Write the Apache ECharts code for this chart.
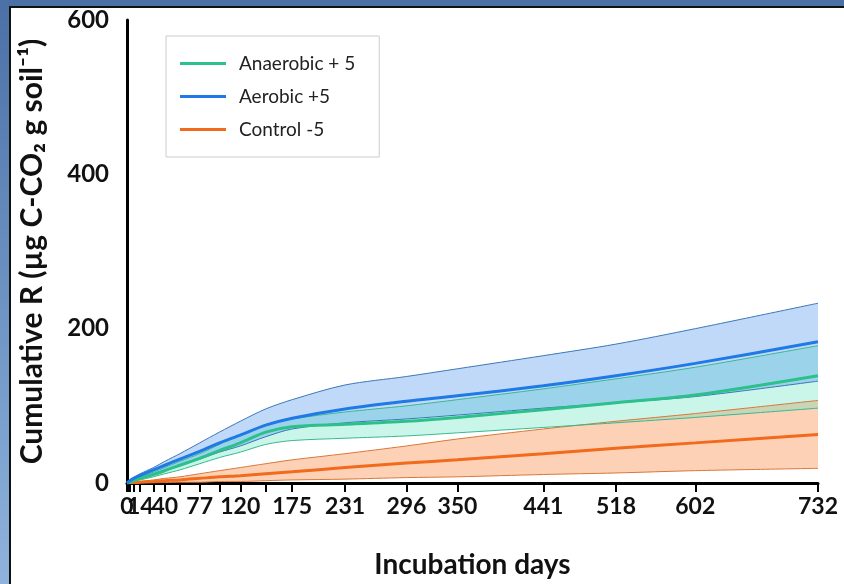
<!DOCTYPE html>
<html>
<head>
<meta charset="utf-8">
<script src="https://cdn.jsdelivr.net/npm/echarts@6/dist/echarts.min.js"></script>
<style>
  html, body { margin: 0; padding: 0; width: 844px; height: 584px; overflow: hidden; }
  body { background: linear-gradient(to bottom, #4b70a6, #8fb3dd); position: relative; }
  .frame { position: absolute; left: 9px; top: 6px; right: 0; bottom: 0; background: #fff;
           border-left: 2px solid #111; border-top: 2px solid #111; }
  #chart { position: absolute; left: 0; top: 0; width: 844px; height: 584px; }
</style>
</head>
<body>
<div class="frame"></div>
<div id="chart"></div>
<script>
const days = [0, 1, 3, 7, 14, 28, 40, 56, 77, 98, 120, 147, 175, 231, 296, 350, 441, 518, 602, 732]
const tickDays = [0, 1, 3, 7, 14, 28, 40, 56, 77, 98, 120, 147, 175, 231, 296, 350, 441, 518, 602, 732]
const labelDays = [0, 40, 77, 120, 175, 231, 296, 350, 441, 518, 602, 732]
const crowdedLabelDays = [14]

// Aerobic +5
const aerobicMean = [0, 1, 3, 6, 10, 17, 23, 31, 41, 52, 62, 75, 84, 96, 106, 113, 126, 139, 155, 183]
const aerobicUpper = [0, 1, 3, 7, 12, 20, 28, 38, 52, 66, 80, 96, 108, 127, 138, 148, 165, 180, 200, 233]
const aerobicLower = [0, 1, 2, 4, 7, 12, 17, 23, 31, 40, 48, 60, 70, 78, 83, 88, 97, 104, 112, 132]

// Anaerobic + 5
const anaerobicMean = [0, 0.5, 1, 3, 6, 11, 16, 23, 32, 42, 52, 66, 73, 76, 80, 85, 95, 104, 114, 139]
const anaerobicUpper = [0, 1, 2, 4, 8, 14, 20, 28, 38, 50, 62, 76, 83, 92, 100, 108, 122, 135, 150, 178]
const anaerobicLower = [0, 0, 1, 2, 4, 8, 12, 17, 25, 33, 40, 50, 55, 58, 61, 65, 72, 78, 85, 97]

// Control -5
const controlMean = [0, 0, 0.3, 0.5, 1, 2, 3, 4, 6, 8, 9.5, 12, 14.5, 20, 26, 30, 38, 45, 52, 63]
const controlUpper = [0, 0.2, 0.5, 1, 2, 4, 6, 8, 12, 16, 20, 25, 30, 38, 48, 57, 70, 80, 90, 107]
const controlLower = [0, 0, 0, 0, 0, 0, 0.5, 1, 1, 2, 2, 3, 4, 5, 7, 8, 11, 13, 16, 19]

const FONT = 'Lato, "Open Sans", sans-serif'

// value first, day second, so that stacking happens on the y value
const pairVY = (arr) => days.map((d, i) => [arr[i], d])
const diffVY = (hi, lo) => days.map((d, i) => [hi[i] - lo[i], d])
const pair = (arr) => days.map((d, i) => [d, arr[i]])

const band = (name, lo, hi, fill) => ([
  {
    name: name + '_lo', type: 'line', stack: name, data: pairVY(lo), encode: { x: 1, y: 0 },
    smooth: 0.3, symbol: 'none', lineStyle: { width: 0, opacity: 0 }, silent: true, z: 1
  },
  {
    name: name + '_fill', type: 'line', stack: name, data: diffVY(hi, lo), encode: { x: 1, y: 0 },
    smooth: 0.3, symbol: 'none', lineStyle: { width: 0, opacity: 0 },
    areaStyle: { color: fill, opacity: 1 }, silent: true, z: 1
  }
])

const edge = (name, arr, color) => ({
  name: name, type: 'line', data: pair(arr), smooth: 0.3, symbol: 'none',
  lineStyle: { width: 1, color: color }, silent: true, z: 2
})

const mean = (name, arr, color) => ({
  name: name, type: 'line', data: pair(arr), smooth: 0.3, symbol: 'none',
  itemStyle: { color: color }, lineStyle: { width: 3, color: color }, z: 3
})

const labelStyle = { margin: 12, fontFamily: FONT, fontSize: 23, fontWeight: 'bold', color: '#111' }

const chart = echarts.init(document.getElementById('chart'))

const option = {
  animation: false,
  grid: { left: 127, top: 20, right: 26, bottom: 97, containLabel: false },
  legend: {
    orient: 'vertical',
    left: 166,
    top: 36,
    data: ['Anaerobic + 5', 'Aerobic +5', 'Control -5'],
    icon: 'rect',
    itemWidth: 46,
    itemHeight: 3,
    itemGap: 14,
    padding: [18, 24, 18, 14],
    borderColor: '#cccccc',
    borderWidth: 1,
    backgroundColor: '#ffffff',
    textStyle: { fontFamily: FONT, fontSize: 19, color: '#222', padding: [0, 0, 0, 8] }
  },
  xAxis: [
    {
      type: 'value',
      min: 0,
      max: 732,
      name: 'Incubation days',
      nameLocation: 'middle',
      nameGap: 68,
      nameTextStyle: { fontFamily: FONT, fontSize: 28, fontWeight: 'bold', color: '#111' },
      axisLine: { show: true, lineStyle: { color: '#000', width: 3 } },
      axisTick: { show: true, customValues: tickDays, length: 9, lineStyle: { color: '#000', width: 2 } },
      axisLabel: { customValues: labelDays, showMinLabel: true, showMaxLabel: true, ...labelStyle },
      splitLine: { show: false }
    },
    {
      // second copy of the same scale, only to print the crowded "14" label
      type: 'value',
      position: 'bottom',
      min: 0,
      max: 732,
      axisLine: { show: false },
      axisTick: { show: false },
      axisLabel: { customValues: crowdedLabelDays, showMinLabel: true, showMaxLabel: true, ...labelStyle },
      splitLine: { show: false }
    }
  ],
  yAxis: {
    type: 'value',
    min: 0,
    max: 600,
    interval: 200,
    name: 'Cumulative R (µg C-CO₂ g soil⁻¹)',
    nameLocation: 'middle',
    nameRotate: 90,
    nameGap: 80,
    nameTextStyle: { fontFamily: FONT, fontSize: 30, fontWeight: 'bold', color: '#111' },
    axisLine: { show: true, lineStyle: { color: '#000', width: 3 } },
    axisTick: { show: false },
    axisLabel: { margin: 18, fontFamily: FONT, fontSize: 24, fontWeight: 'bold', color: '#111' },
    splitLine: { show: false }
  },
  series: [
    ...band('control', controlLower, controlUpper, 'rgba(249, 145, 80, 0.42)'),
    ...band('anaerobic', anaerobicLower, anaerobicUpper, 'rgba(80, 225, 185, 0.3)'),
    ...band('aerobic', aerobicLower, aerobicUpper, 'rgba(45, 130, 235, 0.3)'),
    edge('control_hi', controlUpper, '#d9773a'),
    edge('control_lo', controlLower, '#d9773a'),
    edge('anaerobic_hi', anaerobicUpper, '#3ab890'),
    edge('anaerobic_lo', anaerobicLower, '#3ab890'),
    edge('aerobic_hi', aerobicUpper, '#3a78b8'),
    edge('aerobic_lo', aerobicLower, '#3a78b8'),
    mean('Control -5', controlMean, '#f26a1b'),
    mean('Anaerobic + 5', anaerobicMean, '#2cc08a'),
    mean('Aerobic +5', aerobicMean, '#1f7ae6')
  ]
}

chart.setOption(option)
</script>
</body>
</html>
